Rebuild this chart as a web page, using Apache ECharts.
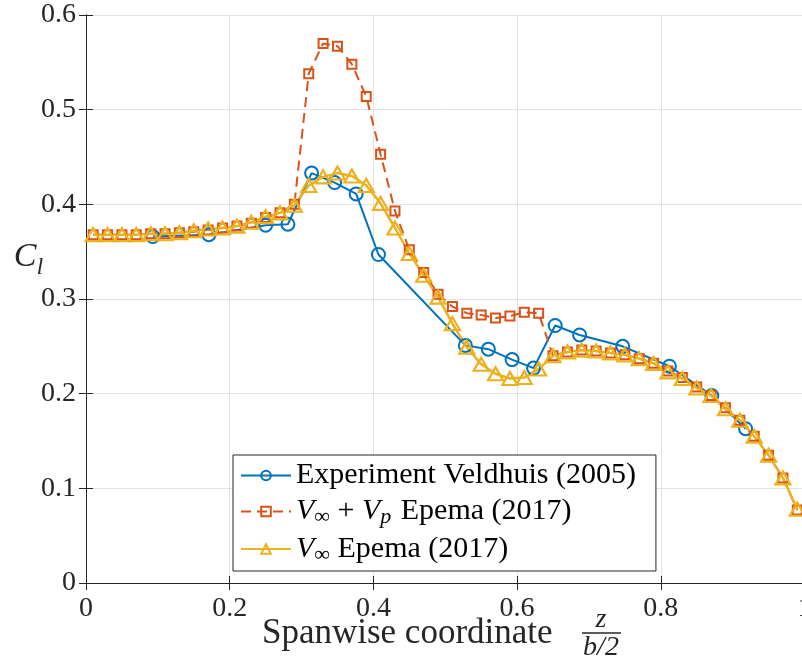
<!DOCTYPE html>
<html>
<head>
<meta charset="utf-8">
<script src="https://cdn.jsdelivr.net/npm/echarts@6/dist/echarts.min.js"></script>
<style>
  html, body { margin: 0; padding: 0; background: #ffffff; }
  #chart { width: 802px; height: 660px; }
</style>
</head>
<body>
<div id="chart"></div>
<script>
// Spanwise stations of the panel model (z / (b/2))
const spanStations = [
  0.01, 0.03, 0.05, 0.07, 0.09, 0.11, 0.13, 0.15, 0.17, 0.19,
  0.21, 0.23, 0.25, 0.27, 0.29, 0.31, 0.33, 0.35, 0.37, 0.39,
  0.41, 0.43, 0.45, 0.47, 0.49, 0.51, 0.53, 0.55, 0.57, 0.59,
  0.61, 0.63, 0.65, 0.67, 0.69, 0.71, 0.73, 0.75, 0.77, 0.79,
  0.81, 0.83, 0.85, 0.87, 0.89, 0.91, 0.93, 0.95, 0.97, 0.99
];

// Sectional lift coefficient, free stream plus propeller slipstream
const clVinfVp = [
  0.368, 0.368, 0.368, 0.368, 0.369, 0.369, 0.370, 0.371, 0.373, 0.375,
  0.377, 0.380, 0.386, 0.391, 0.400, 0.538, 0.570, 0.567, 0.548, 0.514,
  0.453, 0.393, 0.352, 0.328, 0.305, 0.292, 0.285, 0.283, 0.280, 0.282,
  0.286, 0.285, 0.240, 0.244, 0.246, 0.245, 0.243, 0.241, 0.237, 0.232,
  0.224, 0.217, 0.207, 0.198, 0.185, 0.172, 0.155, 0.135, 0.111, 0.077
];

// Sectional lift coefficient, free stream only
const clVinf = [
  0.368, 0.368, 0.368, 0.368, 0.369, 0.369, 0.370, 0.372, 0.374, 0.375,
  0.377, 0.381, 0.387, 0.391, 0.399, 0.420, 0.429, 0.433, 0.430, 0.420,
  0.401, 0.375, 0.348, 0.325, 0.302, 0.274, 0.249, 0.231, 0.221, 0.216,
  0.217, 0.226, 0.240, 0.244, 0.246, 0.245, 0.243, 0.241, 0.237, 0.232,
  0.223, 0.216, 0.206, 0.198, 0.184, 0.172, 0.155, 0.135, 0.111, 0.078
];

// Wind tunnel measurements
const expSpan = [
  0.093, 0.171, 0.250, 0.281, 0.314, 0.346, 0.376, 0.407, 0.528,
  0.560, 0.593, 0.623, 0.653, 0.687, 0.747, 0.812, 0.871, 0.918
];
const expCl = [
  0.366, 0.368, 0.378, 0.379, 0.433, 0.423, 0.411, 0.347, 0.251,
  0.247, 0.236, 0.227, 0.272, 0.262, 0.250, 0.229, 0.198, 0.163
];

const seriesNames = [
  'Experiment Veldhuis (2005)',
  'V∞ + Vp Epema (2017)',
  'V∞ Epema (2017)'
];
const legendLabels = {
  'Experiment Veldhuis (2005)': '{r|Experiment Veldhuis (2005)}',
  'V∞ + Vp Epema (2017)': '{i|V}{s|∞}{r| + }{i|V}{p|p}{r| Epema (2017)}',
  'V∞ Epema (2017)': '{i|V}{s|∞}{r| Epema (2017)}'
};

const SERIF = '"Liberation Serif", "Times New Roman", serif';
const INK = '#262626';
const GRID = '#e3e3e3';
const BLUE = '#0072BD';
const ORANGE = '#D95319';
const YELLOW = '#EDB120';

const pairs = (xs, ys) => xs.map((x, i) => [x, ys[i]]);

const chart = echarts.init(document.getElementById('chart'), null, { renderer: 'canvas' });

// Top and right edges of the axes box: ticks only, no labels
const frameAxis = {
  axisLine: { show: true, lineStyle: { color: INK, width: 1 } },
  axisTick: { show: true, inside: true, length: 7, lineStyle: { color: INK, width: 1 } },
  axisLabel: { show: false },
  splitLine: { show: false }
};

chart.setOption({
  animation: false,
  backgroundColor: '#ffffff',
  grid: { left: 86, top: 15, right: -2.5, bottom: 77, containLabel: false, outerBoundsMode: 'none' },
  xAxis: [
    {
      type: 'value', min: 0, max: 1, interval: 0.2, position: 'bottom',
      axisLine: { show: true, onZero: false, lineStyle: { color: INK, width: 1 } },
      axisTick: { show: true, inside: true, length: 7, lineStyle: { color: INK } },
      axisLabel: { color: INK, fontFamily: SERIF, fontSize: 28, margin: 12 },
      splitLine: { show: true, lineStyle: { color: GRID, width: 1 } },
      name: '{t|Spanwise coordinate}{g|}',
      nameLocation: 'middle',
      nameGap: 33,
      nameMoveOverlap: false,
      nameTextStyle: {
        rich: {
          t: { fontFamily: SERIF, fontSize: 35, color: INK },
          g: { width: 76 }
        }
      }
    },
    Object.assign({ type: 'value', min: 0, max: 1, interval: 0.2, position: 'top' }, frameAxis)
  ],
  yAxis: [
    {
      type: 'value', min: 0, max: 0.6, interval: 0.1, position: 'left',
      axisLine: { show: true, onZero: false, lineStyle: { color: INK, width: 1 } },
      axisTick: { show: true, inside: true, length: 7, lineStyle: { color: INK } },
      axisLabel: { color: INK, fontFamily: SERIF, fontSize: 28, margin: 10 },
      splitLine: { show: true, lineStyle: { color: GRID, width: 1 } }
    },
    Object.assign({ type: 'value', min: 0, max: 0.6, interval: 0.1, position: 'right' }, frameAxis)
  ],
  legend: {
    orient: 'vertical',
    left: 233,
    top: 455,
    padding: [5, 20, 5, 7],
    itemGap: 5,
    itemWidth: 50,
    itemHeight: 12,
    borderColor: INK,
    borderWidth: 1,
    borderRadius: 0,
    backgroundColor: '#ffffff',
    data: seriesNames,
    formatter: name => legendLabels[name],
    textStyle: {
      color: '#000000',
      fontFamily: SERIF,
      fontSize: 30,
      lineHeight: 31,
      rich: {
        r: { fontFamily: SERIF, fontSize: 30, color: '#000000', lineHeight: 31 },
        i: { fontFamily: SERIF, fontSize: 30, fontStyle: 'italic', color: '#000000', lineHeight: 31 },
        s: { fontFamily: SERIF, fontSize: 22, color: '#000000', padding: [12, 0, 0, 0] },
        p: { fontFamily: SERIF, fontSize: 22, fontStyle: 'italic', color: '#000000', padding: [12, 2, 0, 0] }
      }
    }
  },
  graphic: [
    {
      type: 'text', x: 25, y: 257, silent: true,
      style: { text: 'C', font: 'italic 34px "Liberation Serif"', fill: INK, align: 'center', verticalAlign: 'middle' }
    },
    {
      type: 'text', x: 40, y: 268, silent: true,
      style: { text: 'l', font: 'italic 23px "Liberation Serif"', fill: INK, align: 'center', verticalAlign: 'middle' }
    },
    {
      type: 'text', x: 601, y: 620, silent: true,
      style: { text: 'z', font: 'italic 28px "Liberation Serif"', fill: INK, align: 'center', verticalAlign: 'middle' }
    },
    {
      type: 'line', silent: true,
      shape: { x1: 582, y1: 633, x2: 621, y2: 633 },
      style: { stroke: INK, lineWidth: 1.5 }
    },
    {
      type: 'text', x: 601, y: 648, silent: true,
      style: { text: 'b/2', font: 'italic 28px "Liberation Serif"', fill: INK, align: 'center', verticalAlign: 'middle' }
    }
  ],
  series: [
    {
      name: seriesNames[0],
      type: 'line',
      data: pairs(expSpan, expCl),
      symbol: 'circle',
      symbolSize: 13,
      lineStyle: { color: BLUE, width: 2 },
      itemStyle: { color: 'rgba(255,255,255,0)', borderColor: BLUE, borderWidth: 2 },
      emphasis: { disabled: true }
    },
    {
      name: seriesNames[1],
      type: 'line',
      data: pairs(spanStations, clVinfVp),
      symbol: 'rect',
      symbolSize: 9,
      lineStyle: { color: ORANGE, width: 2, type: [10, 6] },
      itemStyle: { color: 'rgba(255,255,255,0)', borderColor: ORANGE, borderWidth: 2 },
      emphasis: { disabled: true }
    },
    {
      name: seriesNames[2],
      type: 'line',
      data: pairs(spanStations, clVinf),
      symbol: 'triangle',
      symbolSize: [15, 13],
      lineStyle: { color: YELLOW, width: 2.5 },
      itemStyle: { color: 'rgba(255,255,255,0)', borderColor: YELLOW, borderWidth: 2.2 },
      emphasis: { disabled: true }
    }
  ]
});
</script>
</body>
</html>
